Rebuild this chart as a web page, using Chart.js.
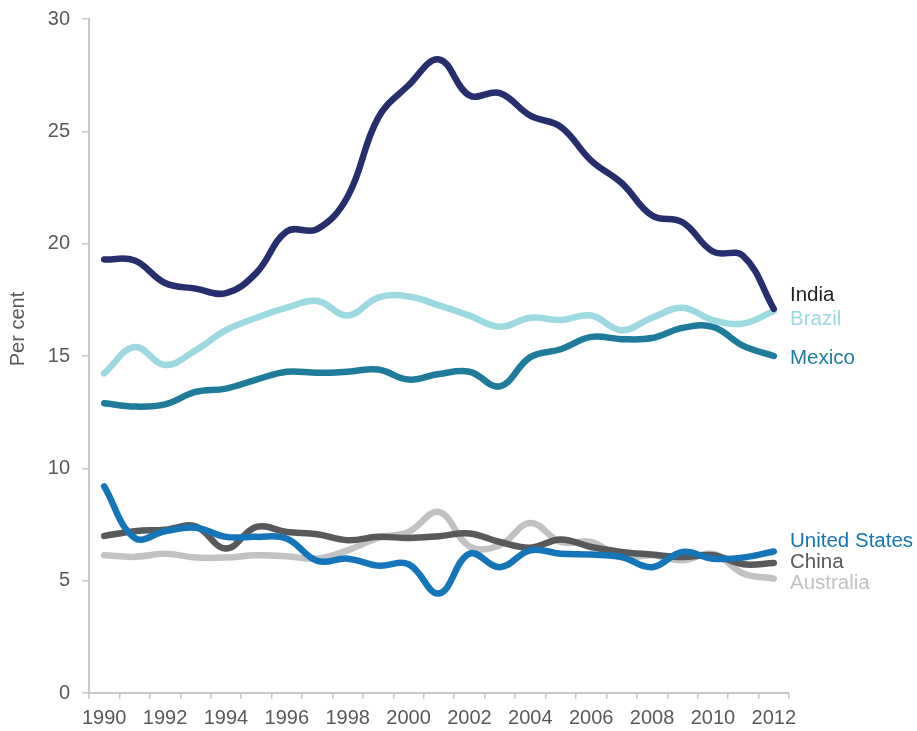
<!DOCTYPE html>
<html><head><meta charset="utf-8">
<script src="https://cdn.jsdelivr.net/npm/chart.js@4.4.0/dist/chart.umd.min.js"></script>
<style>html,body{margin:0;padding:0;background:#fff;}#wrap{width:917px;height:731px;}</style>
</head><body><div id="wrap"><canvas id="c" width="917" height="731"></canvas></div>
<script>
const years = ['1990','1991','1992','1993','1994','1995','1996','1997','1998','1999','2000','2001','2002','2003','2004','2005','2006','2007','2008','2009','2010','2011','2012'];
const india = [19.3,19.25,18.25,18.0,17.8,18.7,20.55,20.65,22.1,25.6,27.05,28.2,26.6,26.7,25.7,25.2,23.7,22.7,21.25,20.95,19.65,19.45,17.1];
const brazil = [14.23,15.4,14.6,15.25,16.15,16.7,17.15,17.45,16.8,17.6,17.65,17.25,16.8,16.3,16.7,16.6,16.8,16.15,16.7,17.15,16.6,16.45,17.0];
const mexico = [12.9,12.75,12.85,13.4,13.55,13.95,14.3,14.25,14.3,14.4,13.95,14.2,14.3,13.65,14.95,15.3,15.85,15.75,15.8,16.25,16.3,15.45,15.0];
const unitedStates = [9.2,6.9,7.2,7.36,6.95,6.95,6.87,5.88,5.98,5.67,5.73,4.43,6.2,5.6,6.35,6.2,6.16,6.05,5.6,6.28,5.98,6.03,6.3];
const china = [6.99,7.2,7.27,7.42,6.43,7.39,7.17,7.07,6.8,6.95,6.9,6.98,7.1,6.72,6.47,6.83,6.5,6.28,6.16,6.05,6.13,5.73,5.79];
const australia = [6.13,6.06,6.2,6.03,6.03,6.13,6.09,5.98,6.35,6.9,7.17,8.06,6.53,6.58,7.57,6.72,6.72,6.05,6.13,5.91,6.2,5.32,5.09];
const seriesNames = ['India','Brazil','Mexico','United States','China','Australia'];
const labelLevels = [17.71,16.64,14.90,6.75,5.81,4.88];
const yTicks = [0,5,10,15,20,25,30];
const yTitle = 'Per cent';
const yTitleLevel = 16.2;

const FONT = '"Liberation Sans", Arial, sans-serif';
const lineColors = ['#262e6d','#9dd9e1','#1f7b9b','#1475b9','#58595b','#c0c2c3'];
const textColors = ['#231f20','#9dd9e1','#1f7b9b','#1475b9','#58595b','#c0c2c3'];
const allData = [india, brazil, mexico, unitedStates, china, australia];

const extraText = {
  id:'extraText',
  afterDatasetsDraw(chart){
    const ctx = chart.ctx, y = chart.scales.y, area = chart.chartArea;
    ctx.save();
    ctx.font = '20.5px ' + FONT;
    ctx.textBaseline = 'middle';
    ctx.textAlign = 'left';
    seriesNames.forEach((n,i)=>{
      ctx.fillStyle = textColors[i];
      ctx.fillText(n, area.right + 1, y.getPixelForValue(labelLevels[i]));
    });
    ctx.restore();
    ctx.save();
    ctx.font = '20px ' + FONT;
    ctx.fillStyle = '#595959';
    ctx.textAlign = 'center';
    ctx.textBaseline = 'middle';
    ctx.translate(18.5, y.getPixelForValue(yTitleLevel));
    ctx.rotate(-Math.PI/2);
    ctx.fillText(yTitle, 0, 0);
    ctx.restore();
  }
};

new Chart(document.getElementById('c'), {
  type:'line',
  data:{
    labels: years,
    datasets: allData.map((d,i)=>({
      label: seriesNames[i], data: d,
      borderColor: lineColors[i], backgroundColor: lineColors[i],
      borderWidth: 6.5, pointRadius: 0, tension: 0.4,
      borderCapStyle:'round', borderJoinStyle:'round', fill:false,
      order: i
    }))
  },
  options:{
    responsive:false, animation:false,
    layout:{padding:{top:19,right:128,left:0,bottom:0}},
    plugins:{legend:{display:false}, tooltip:{enabled:false}},
    scales:{
      x:{
        offset:true,
        grid:{display:true, drawOnChartArea:false, offset:true, tickLength:6, color:'#c8c8c8', lineWidth:1.5},
        border:{display:true, color:'#c8c8c8', width:2},
        ticks:{color:'#595959', font:{size:20, family:FONT}, autoSkip:false, maxRotation:0, padding:7,
          callback:function(v,i){ return i%2===0 ? years[i] : ''; }},
        afterFit(s){ s.height = 38; s.paddingLeft = 0; s.paddingRight = 0; }
      },
      y:{
        min:0, max:30,
        afterBuildTicks(s){ s.ticks = yTicks.map(v=>({value:v})); },
        grid:{display:true, drawOnChartArea:false, tickLength:7, color:'#c8c8c8', lineWidth:1.5},
        border:{display:true, color:'#c8c8c8', width:2},
        ticks:{color:'#595959', font:{size:20, family:FONT}, padding:12},
        afterFit(s){ s.width = 89; s.paddingTop = 0; s.paddingBottom = 0; }
      }
    }
  },
  plugins:[extraText]
});
</script></body></html>
